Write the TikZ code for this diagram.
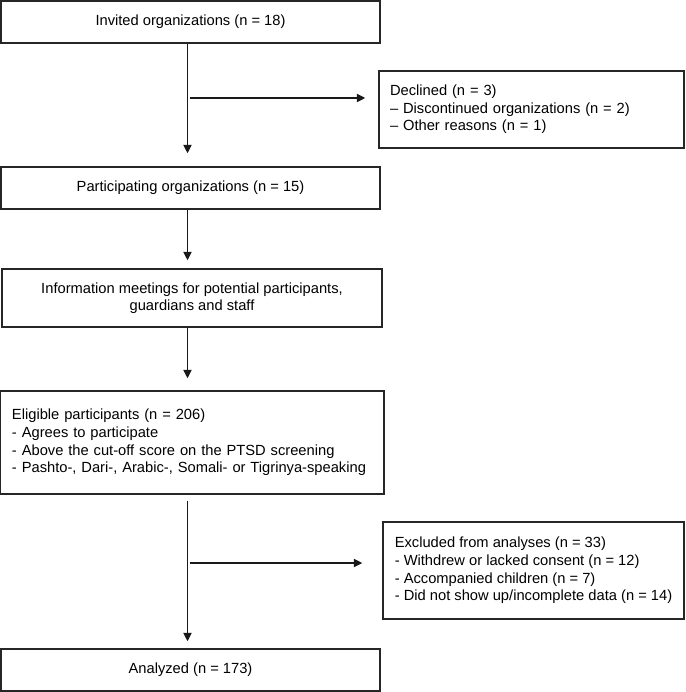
\documentclass[tikz,border=0pt]{standalone}
\usepackage{fontspec}
\setmainfont{Liberation Sans}
\usetikzlibrary{arrows.meta}

\tikzset{
  stage/.style={draw=black!85, line width=1.3pt, minimum width=379pt, minimum height=42pt, inner sep=0pt, align=center},
  sidebox/.style={draw=black!85, line width=1.3pt, inner ysep=0pt, align=left},
  flow/.style={draw=black!90, line width=1.8pt, -{Triangle[length=8.5pt,width=8pt]}},
}

\begin{document}
\begin{tikzpicture}[x=1pt, y=-1pt, font=\fontsize{14.7pt}{17.6pt}\selectfont]
\useasboundingbox (0,0) rectangle (685,692);
\coordinate (spine) at (187.5,0);

\node [stage] (invited) at (190.5,22) {Invited organizations (n = 18)};
\node [sidebox, inner xsep=11pt, text width=283pt, minimum height=77pt] (declined) at (531.5,109.5)
  {Declined (n = 3)\\– Discontinued organizations (n = 2)\\– Other reasons (n = 1)};
\node [stage] (partic) at (190.5,188) {Participating organizations (n = 15)};
\node [stage, minimum width=380pt, minimum height=58pt] (info) at (192,298)
  {Information meetings for potential participants,\\guardians and staff};
\node [sidebox, inner xsep=12pt, text width=360pt, minimum height=103pt] (eligible) at (192,442.5)
  {Eligible participants (n = 206)\\- Agrees to participate\\- Above the cut-off score on the PTSD screening\\- Pashto-, Dari-, Arabic-, Somali- or Tigrinya-speaking\par\vspace*{9pt}};
\node [sidebox, minimum width=301pt, minimum height=97pt] (excluded) at (533.5,570.5)
  {Excluded from analyses (n = 33)\\- Withdrew or lacked consent (n = 12)\\- Accompanied children (n = 7)\\- Did not show up/incomplete data (n = 14)};
\node [stage] (analyzed) at (190.5,670) {Analyzed (n = 173)};

% main flow
\draw [flow, shorten >=13pt] (invited.south -| spine) -- (partic.north -| spine);
\draw [flow, shorten >=8pt] (partic.south -| spine) -- (info.north -| spine);
\draw [flow, shorten >=12pt] (info.south -| spine) -- (eligible.north -| spine);
\draw [flow, shorten <=6pt, shorten >=7pt] (eligible.south -| spine) -- (analyzed.north -| spine);

% side branches
\coordinate (split1) at (187.5,98);
\coordinate (split2) at (187.5,563);
\draw [flow, shorten <=2pt, shorten >=13pt] (split1) -- (split1 -| declined.west);
\draw [flow, shorten <=2pt, shorten >=20pt] (split2) -- (split2 -| excluded.west);
\end{tikzpicture}
\end{document}
